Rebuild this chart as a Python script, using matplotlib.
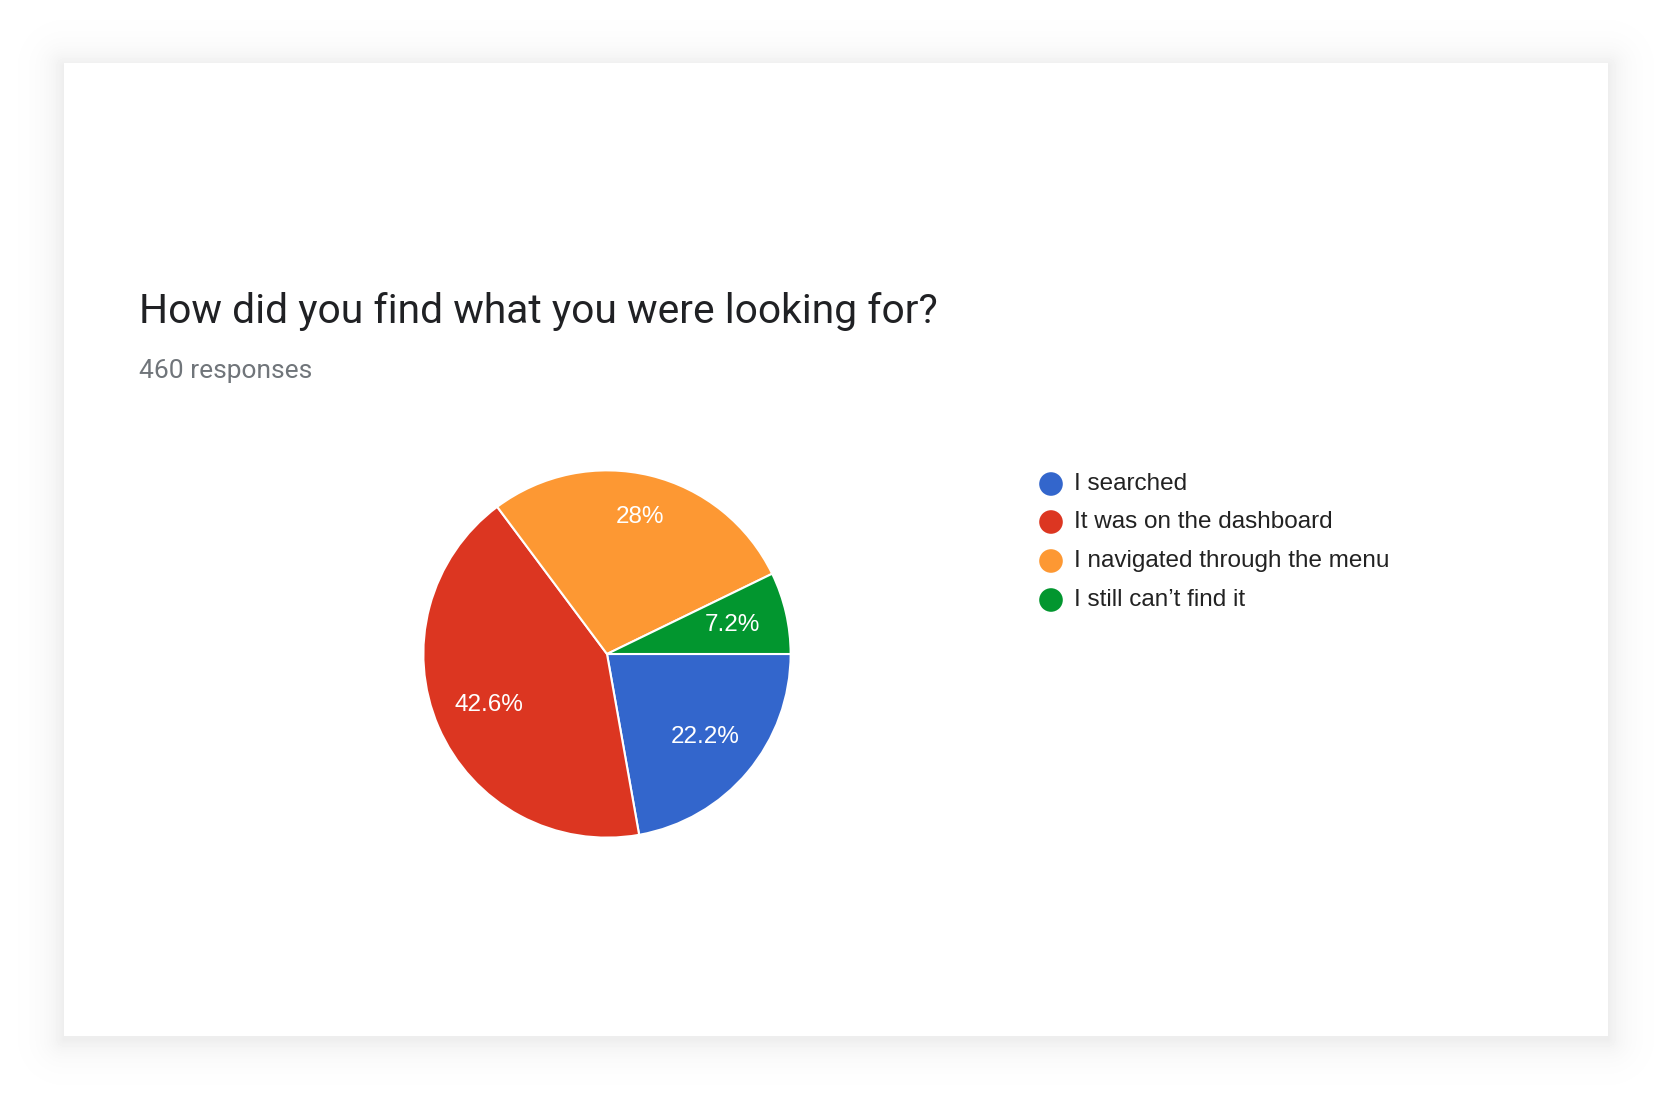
import matplotlib
matplotlib.use("Agg")
import matplotlib.pyplot as plt
import numpy as np

# survey data
categories = ["I searched", "It was on the dashboard",
              "I navigated through the menu", "I still can\u2019t find it"]
shares = [22.2, 42.6, 28.0, 7.2]
colors = ["#3366cc", "#dc3621", "#fd9833", "#02962f"]
title = "How did you find what you were looking for?"
subtitle = "460 responses"

W, H = 1672, 1104
fig = plt.figure(figsize=(W / 100, H / 100), dpi=100)
fig.patch.set_facecolor("white")

# pixel overlay for card + legend
bg = fig.add_axes([0, 0, 1, 1])
bg.set_xlim(0, W)
bg.set_ylim(H, 0)
bg.axis("off")

# soft drop shadow around the card
card = (64, 63, 1608, 1036)
yy, xx = np.mgrid[0:H, 0:W] + 0.5
dx = np.maximum(np.maximum(card[0] - xx, xx - card[2]), 0)
dy = np.maximum(np.maximum(card[1] + 3 - yy, yy - card[3] - 3), 0)
d = np.hypot(dx, dy)
shade = 1 - 0.07 * np.exp(-d / 16)
bg.imshow(shade, cmap="gray", vmin=0, vmax=1, extent=(0, W, H, 0),
          interpolation="nearest", zorder=0)
bg.add_patch(plt.Rectangle((card[0], card[1]), card[2] - card[0], card[3] - card[1],
                           facecolor="white", edgecolor="none", zorder=1))
bg.set_xlim(0, W)
bg.set_ylim(H, 0)

bg.text(139, 323, title, fontsize=29.3, family="Roboto", color="#202124",
        va="baseline", ha="left", zorder=2)
bg.text(139, 378, subtitle, fontsize=19, family="Roboto", color="#70757a",
        va="baseline", ha="left", zorder=2)

# legend
row_y = [484, 522, 561, 600]
for lab, col, y in zip(categories, colors, row_y):
    bg.scatter([1051], [y], s=17 ** 2, color=col, zorder=3, edgecolors="none")
    bg.text(1074, y, lab, fontsize=17.5, family="Liberation Sans", color="#222222",
            va="center", ha="left", zorder=3)

# pie
cx, cy, box = 607, 654, 404
ax = fig.add_axes([(cx - box / 2) / W, 1 - (cy + box / 2) / H, box / W, box / H])
wedges, texts, autotexts = ax.pie(
    shares, colors=colors, startangle=0, counterclock=False,
    autopct=lambda p: ("%.1f%%" % p).replace(".0%", "%"), pctdistance=0.7,
    wedgeprops=dict(edgecolor="white", linewidth=1.5),
    textprops=dict(color="white", fontsize=17.5, family="Liberation Sans"))
# the big orange label sits a bit further out in the original
x, y = autotexts[2].get_position()
autotexts[2].set_position((x * 0.77 / 0.7, y * 0.77 / 0.7))
ax.set_xlim(-1.1, 1.1)
ax.set_ylim(-1.1, 1.1)
ax.set_aspect("equal")
ax.axis("off")

fig.savefig("out.png", dpi=100, facecolor="white")
